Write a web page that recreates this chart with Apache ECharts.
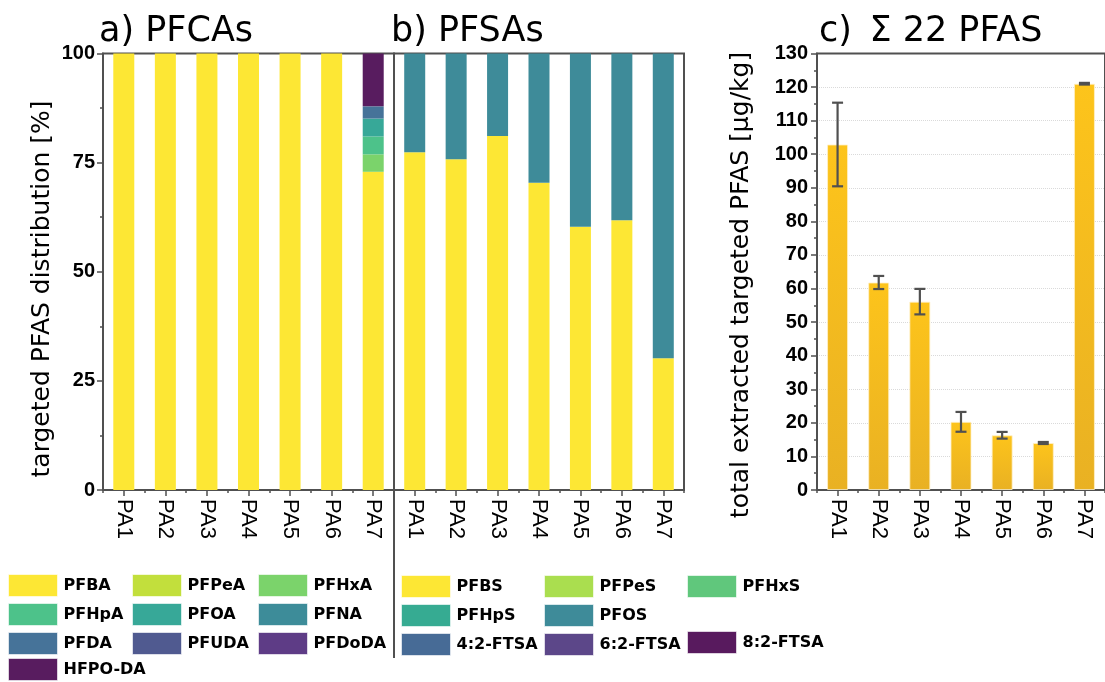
<!DOCTYPE html>
<html>
<head>
<meta charset="utf-8">
<script src="https://cdn.jsdelivr.net/npm/echarts@6/dist/echarts.min.js"></script>
<style>
html,body{margin:0;padding:0;background:#fff;}
#chart{width:1105px;height:682px;}
</style>
</head>
<body>
<div id="chart"></div>
<script>
// ---------- DATA ----------
const categories = ['PA1','PA2','PA3','PA4','PA5','PA6','PA7'];

// a) PFCAs, % of targeted PFAS
const pfcaNames = ['PFBA','PFPeA','PFHxA','PFHpA','PFOA','PFNA','PFDA','PFUDA','PFDoDA','HFPO-DA'];
const PFBA   = [100,100,100,100,100,100,72.9];
const PFPeA  = [0,0,0,0,0,0,0];
const PFHxA  = [0,0,0,0,0,0,4.0];
const PFHpA  = [0,0,0,0,0,0,4.1];
const PFOA   = [0,0,0,0,0,0,4.1];
const PFNA   = [0,0,0,0,0,0,0];
const PFDA   = [0,0,0,0,0,0,2.8];
const PFUDA  = [0,0,0,0,0,0,0];
const PFDoDA = [0,0,0,0,0,0,0];
const HFPODA = [0,0,0,0,0,0,12.1];

// b) PFSAs, % of targeted PFAS
const pfsaNames = ['PFBS','PFPeS','PFHxS','PFHpS','PFOS','4:2-FTSA','6:2-FTSA','8:2-FTSA'];
const PFBS    = [77.4,75.8,81.1,70.4,60.3,61.8,30.2];
const PFPeS   = [0,0,0,0,0,0,0];
const PFHxS   = [0,0,0,0,0,0,0];
const PFHpS   = [0,0,0,0,0,0,0];
const PFOS    = [22.6,24.2,18.9,29.6,39.7,38.2,69.8];
const FTSA42  = [0,0,0,0,0,0,0];
const FTSA62  = [0,0,0,0,0,0,0];
const FTSA82  = [0,0,0,0,0,0,0];

// c) sum of 22 PFAS, µg/kg, with standard deviation
const totalPFAS = [102.9,61.8,56.1,20.3,16.3,14.0,121.0];
const totalSD   = [12.45,1.95,3.8,2.95,1.0,0.3,0.25];

const percentTicks = [0,25,50,75,100];
const totalTicks = [0,10,20,30,40,50,60,70,80,90,100,110,120,130];

// ---------- STYLE ----------
const pfcaColors = ['#fde734','#c2df3c','#7bd36b','#4dc28a','#37a898','#3d8c99','#467399','#505a90','#5e3c86','#581c5f'];
const pfsaColors = ['#fde734','#aade4f','#60c77c','#36ab92','#3e8b99','#476b96','#5c4789','#581a5e'];
const pfcaData = [PFBA,PFPeA,PFHxA,PFHpA,PFOA,PFNA,PFDA,PFUDA,PFDoDA,HFPODA];
const pfsaData = [PFBS,PFPeS,PFHxS,PFHpS,PFOS,FTSA42,FTSA62,FTSA82];

const axisColor = '#505050';
const labelFont = 'Liberation Sans';
const GT = 53.5, GH = 436.5;

function catAxis(grid, showLabels) {
  return {
    type:'category', gridIndex:grid, data:categories, position:'bottom',
    axisLine:{show:showLabels, lineStyle:{color:axisColor,width:2}},
    axisTick:{show:true, alignWithLabel:showLabels, length:showLabels?6:3, lineStyle:{color:axisColor,width:1.5}},
    axisLabel:{show:showLabels, rotate:-90, margin:9, color:'#000', fontSize:22, fontFamily:labelFont},
    splitLine:{show:false}
  };
}

const series = [];
pfcaNames.forEach((n,i)=>{
  series.push({name:n, type:'bar', stack:'pfca', xAxisIndex:0, yAxisIndex:0, barWidth:21,
    data:pfcaData[i], itemStyle:{color:pfcaColors[i]}, emphasis:{disabled:true}});
});
pfsaNames.forEach((n,i)=>{
  series.push({name:n, type:'bar', stack:'pfsa', xAxisIndex:2, yAxisIndex:1, barWidth:21,
    data:pfsaData[i], itemStyle:{color:pfsaColors[i]}, emphasis:{disabled:true}});
});
series.push({name:'total', type:'bar', xAxisIndex:4, yAxisIndex:2, barWidth:21,
  data:totalPFAS, emphasis:{disabled:true},
  itemStyle:{color:new echarts.graphic.LinearGradient(0,0,0,1,[{offset:0,color:'#fdc41b'},{offset:1,color:'#e9b123'}]),
    borderColor:'rgba(255,240,200,0.8)', borderWidth:1}});
series.push({name:'sd', type:'custom', xAxisIndex:4, yAxisIndex:2, z:10,
  data: categories.map((c,i)=>[i, totalPFAS[i]-totalSD[i], totalPFAS[i]+totalSD[i]]),
  renderItem:function(params, api){
    const x = api.value(0);
    const lo = api.coord([x, api.value(1)]);
    const hi = api.coord([x, api.value(2)]);
    const hw = 5.5;
    const st = {stroke:'#505050', lineWidth:2.2};
    return {type:'group', children:[
      {type:'line', shape:{x1:lo[0],y1:lo[1],x2:hi[0],y2:hi[1]}, style:st},
      {type:'line', shape:{x1:hi[0]-hw,y1:hi[1],x2:hi[0]+hw,y2:hi[1]}, style:st},
      {type:'line', shape:{x1:lo[0]-hw,y1:lo[1],x2:lo[0]+hw,y2:lo[1]}, style:st}
    ]};
  }
});

function legendCol(left, top, names) {
  return {
    left:left, top:top, orient:'vertical', data:names, icon:'rect', padding:0,
    itemWidth:49, itemHeight:22, itemGap:6, selectedMode:false,
    textStyle:{fontFamily:'DejaVu Sans', fontWeight:'bold', fontSize:16, color:'#000', padding:[0,0,0,1]},
    itemStyle:{borderColor:'rgba(255,255,255,0.6)', borderWidth:1}
  };
}

const titleStyle = {fontFamily:'DejaVu Sans', fontSize:35, fontWeight:'normal', color:'#000'};

const option = {
  animation:false,
  backgroundColor:'#fff',
  title:[
    {text:'a) PFCAs', left:94, top:9, textStyle:titleStyle},
    {text:'b) PFSAs', left:386, top:9, textStyle:titleStyle},
    {text:'c)\u2002\u03A3 22 PFAS', left:814, top:9, textStyle:titleStyle}
  ],
  grid:[
    {left:103, top:GT, width:291, height:GH, show:true, borderColor:axisColor, borderWidth:2},
    {left:394, top:GT, width:290, height:GH, show:true, borderColor:axisColor, borderWidth:2},
    {left:817, top:GT, width:290, height:GH, show:true, borderColor:axisColor, borderWidth:2}
  ],
  xAxis:[catAxis(0,true), catAxis(0,false), catAxis(1,true), catAxis(1,false), catAxis(2,true), catAxis(2,false)],
  yAxis:[
    {type:'value', gridIndex:0, min:percentTicks[0], max:percentTicks[percentTicks.length-1], interval:25,
      axisLine:{show:true, lineStyle:{color:axisColor,width:2}},
      axisTick:{show:true, length:6, lineStyle:{color:axisColor,width:1.5}},
      minorTick:{show:true, splitNumber:2, length:3, lineStyle:{color:axisColor,width:1.5}},
      axisLabel:{color:'#000', fontSize:20, fontWeight:'bold', fontFamily:labelFont, margin:8},
      splitLine:{show:false}},
    {type:'value', gridIndex:1, min:0, max:100, interval:25,
      axisLine:{show:false}, axisTick:{show:false}, axisLabel:{show:false}, splitLine:{show:false}},
    {type:'value', gridIndex:2, min:totalTicks[0], max:totalTicks[totalTicks.length-1], interval:10,
      axisLine:{show:true, lineStyle:{color:axisColor,width:2}},
      axisTick:{show:true, length:6, lineStyle:{color:axisColor,width:1.5}},
      minorTick:{show:true, splitNumber:2, length:3, lineStyle:{color:axisColor,width:1.5}},
      axisLabel:{color:'#000', fontSize:20, fontWeight:'bold', fontFamily:labelFont, margin:9},
      splitLine:{show:true, showMaxLine:false, showMinLine:false, lineStyle:{color:'#dadada', type:'dotted', width:1}}}
  ],
  legend:[
    legendCol(8, 574, ['PFBA','PFHpA','PFDA']),
    legendCol(8, 658, ['HFPO-DA']),
    legendCol(132, 574, ['PFPeA','PFOA','PFUDA']),
    legendCol(258, 574, ['PFHxA','PFNA','PFDoDA']),
    legendCol(401, 575, ['PFBS','PFHpS','4:2-FTSA']),
    legendCol(544, 575, ['PFPeS','PFOS','6:2-FTSA']),
    legendCol(687, 575, ['PFHxS']),
    legendCol(687, 631, ['8:2-FTSA'])
  ],
  graphic:[
    {type:'line', shape:{x1:394,y1:490,x2:394,y2:658}, style:{stroke:axisColor, lineWidth:2}},
    {type:'text', x:42, y:289, rotation:Math.PI/2,
      style:{text:'targeted PFAS distribution [%]', fontFamily:'DejaVu Sans', fontSize:25, fill:'#000', align:'center', verticalAlign:'middle'}},
    {type:'text', x:741, y:285, rotation:Math.PI/2,
      style:{text:'total extracted targeted PFAS [\u03BCg/kg]', fontFamily:'DejaVu Sans', fontSize:25, fill:'#000', align:'center', verticalAlign:'middle'}}
  ],
  series:series
};

const chart = echarts.init(document.getElementById('chart'), null, {renderer:'canvas'});
chart.setOption(option);
</script>
</body>
</html>
